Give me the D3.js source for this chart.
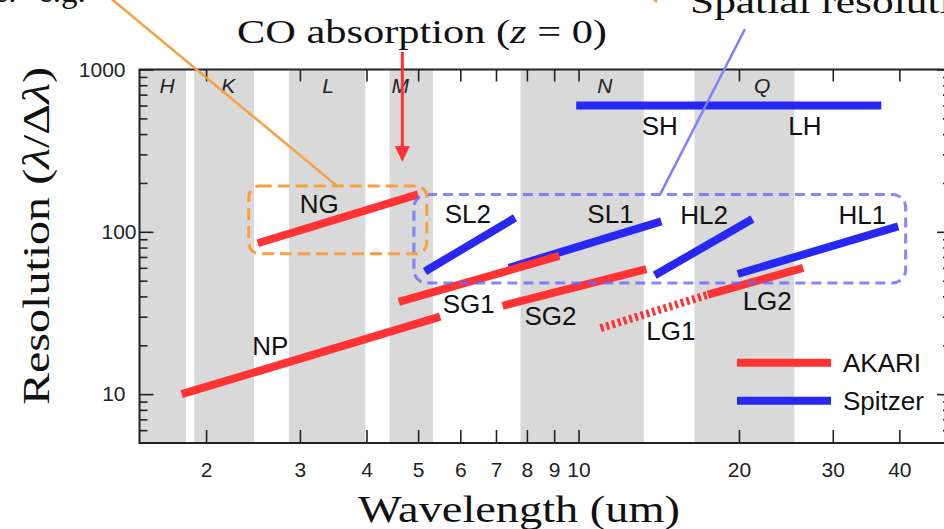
<!DOCTYPE html>
<html>
<head>
<meta charset="utf-8">
<script src="https://cdn.jsdelivr.net/npm/d3@7"></script>
<style>
  html, body { margin: 0; padding: 0; background: #fff; }
  svg { display: block; }
  .sans { font-family: "Liberation Sans", Arial, Helvetica, sans-serif; }
  .serif { font-family: "Liberation Serif", "Times New Roman", serif; }
</style>
</head>
<body>
<svg id="chart" width="944" height="529"></svg>
<script>
// Atmospheric photometric bands (microns)
const bandNames = ["H", "K", "L", "M", "N", "Q"];
const bandStart = [1.5, 1.90, 2.86, 4.42, 7.78, 16.5];
const bandEnd   = [1.834, 2.46, 3.98, 5.33, 13.26, 25.4];
const bandLabelAt = [1.69, 2.20, 3.39, 4.63, 11.2, 22.1];

// AKARI spectroscopic modes: wavelength range and resolving power at each end
const akariModes   = ["NP", "NG", "SG1", "SG2", "LG1", "LG2"];
const akariLamFrom = [1.8, 2.5, 4.6, 7.2, 11.0, 17.5];
const akariLamTo   = [5.5, 5.0, 9.2, 13.4, 17.5, 26.4];
const akariRFrom   = [10, 85, 37, 35, 25.5, 41];
const akariRTo     = [30, 170, 71, 59, 41, 60];
const akariDotted  = [false, false, false, false, true, false];

// Spitzer IRS modules
const spitzerModes   = ["SL2", "SL1", "HL2", "HL1", "SH/LH"];
const spitzerLamFrom = [5.15, 7.4, 13.9, 19.9, 9.9];
const spitzerLamTo   = [7.6, 14.3, 21.2, 39.8, 37.0];
const spitzerRFrom   = [57, 60, 54, 55, 600];
const spitzerRTo     = [122, 116, 120, 108, 600];

// Mode labels: text, wavelength, resolving power at the text baseline
const modeLabels   = ["NP", "NG", "SG1", "SG2", "LG1", "LG2", "SL2", "SL1", "HL2", "HL1", "SH", "LH"];
const modeLabelLam = [2.64, 3.26, 6.22, 8.86, 14.9, 22.6, 6.20, 11.48, 17.2, 34.1, 14.2, 26.6];
const modeLabelR   = [17.3, 130.9, 31.7, 26.8, 21.6, 33.1, 112.8, 112.8, 112, 112, 395, 395];

// Axis ticks
const xTicks = [2, 3, 4, 5, 6, 7, 8, 9, 10, 20, 30, 40];
const yMajor = [10, 100, 1000];
const yMinor = [6, 7, 8, 9, 20, 30, 40, 50, 60, 70, 80, 90, 200, 300, 400, 500, 600, 700, 800, 900];

// Highlighted regions (wavelength range, resolving power range)
const nirBoxLam = [2.405, 5.19];
const nirBoxR   = [73.2, 191.8];
const irsBoxLam = [4.91, 41.1];
const irsBoxR   = [48.4, 169.6];

// CO fundamental absorption band at rest frame
const coLam = 4.67;

const RED = "#ff3333", BLUE = "#2828f5", ORANGE = "#f7a043", LIGHTBLUE = "#8080ff";
const INK = "#222";

const svg = d3.select("#chart");
const pL = 139.5, pR = 951, pT = 69.5, pB = 443;

const x = d3.scaleLog().domain([1.5, 50]).range([pL, pR]);
const y = d3.scaleLog().domain([5, 1000]).range([pB, pT]);

svg.append("defs").append("clipPath").attr("id", "plotClip")
  .append("rect").attr("x", pL).attr("y", pT)
  .attr("width", pR - pL).attr("height", pB - pT);

// Band shading
const bandG = svg.append("g").attr("clip-path", "url(#plotClip)");
bandG.selectAll("rect").data(bandNames).join("rect")
  .attr("x", (d, i) => x(bandStart[i]))
  .attr("width", (d, i) => x(bandEnd[i]) - x(bandStart[i]))
  .attr("y", pT).attr("height", pB - pT)
  .attr("fill", "#d9d9d9");

svg.append("g").selectAll("text").data(bandNames).join("text")
  .attr("class", "sans")
  .attr("x", (d, i) => x(bandLabelAt[i]))
  .attr("y", 92.5)
  .attr("text-anchor", "middle")
  .attr("font-size", 21)
  .attr("font-style", "italic")
  .attr("fill", INK)
  .text(d => d);

// Axes (ticks point inwards on all four sides)
function styleAxis(g) {
  g.select(".domain").remove();
  g.selectAll(".tick line").attr("stroke", INK).attr("stroke-width", 1.6);
  g.selectAll(".tick text").attr("class", "sans").attr("fill", INK).attr("font-size", 21);
}

svg.append("g").attr("transform", `translate(0,${pB})`)
  .call(d3.axisBottom(x).tickValues(xTicks).tickFormat(d3.format("d"))
    .tickSizeInner(-13).tickSizeOuter(0).tickPadding(19))
  .call(styleAxis);

svg.append("g").attr("transform", `translate(0,${pT})`)
  .call(d3.axisTop(x).tickValues(xTicks).tickFormat("")
    .tickSizeInner(-12).tickSizeOuter(0))
  .call(styleAxis);

svg.append("g").attr("transform", `translate(${pL},0)`)
  .call(d3.axisLeft(y).tickValues(yMajor).tickFormat(d3.format("d"))
    .tickSizeInner(-14).tickSizeOuter(0).tickPadding(14))
  .call(styleAxis)
  .call(g => g.selectAll(".tick text").filter(d => d === 100).attr("dx", 11));

svg.append("g").attr("transform", `translate(${pL},0)`)
  .call(d3.axisLeft(y).tickValues(yMinor).tickFormat("")
    .tickSizeInner(-8).tickSizeOuter(0))
  .call(styleAxis);

svg.append("g").attr("transform", `translate(${pR},0)`)
  .call(d3.axisRight(y).tickValues(yMajor).tickFormat("")
    .tickSizeInner(-14).tickSizeOuter(0))
  .call(styleAxis);

svg.append("g").attr("transform", `translate(${pR},0)`)
  .call(d3.axisRight(y).tickValues(yMinor).tickFormat("")
    .tickSizeInner(-8).tickSizeOuter(0))
  .call(styleAxis);

// Plot frame
svg.append("rect")
  .attr("x", pL).attr("y", pT)
  .attr("width", pR - pL).attr("height", pB - pT)
  .attr("fill", "none").attr("stroke", INK).attr("stroke-width", 2);

// Spectral coverage segments
const marks = svg.append("g").attr("clip-path", "url(#plotClip)");

marks.selectAll("line.spitzer").data(spitzerModes).join("line")
  .attr("class", "spitzer")
  .attr("x1", (d, i) => x(spitzerLamFrom[i])).attr("y1", (d, i) => y(spitzerRFrom[i]))
  .attr("x2", (d, i) => x(spitzerLamTo[i])).attr("y2", (d, i) => y(spitzerRTo[i]))
  .attr("stroke", BLUE).attr("stroke-width", 8);

marks.selectAll("line.akari").data(akariModes).join("line")
  .attr("class", "akari")
  .attr("x1", (d, i) => x(akariLamFrom[i])).attr("y1", (d, i) => y(akariRFrom[i]))
  .attr("x2", (d, i) => x(akariLamTo[i])).attr("y2", (d, i) => y(akariRTo[i]))
  .attr("stroke", RED).attr("stroke-width", 8)
  .attr("stroke-dasharray", (d, i) => akariDotted[i] ? "3,3" : null);

// Mode labels
svg.append("g").selectAll("text").data(modeLabels).join("text")
  .attr("class", "sans")
  .attr("x", (d, i) => x(modeLabelLam[i]))
  .attr("y", (d, i) => y(modeLabelR[i]))
  .attr("text-anchor", "middle")
  .attr("font-size", 26)
  .attr("fill", "#111")
  .text(d => d);

// Highlight boxes
svg.append("rect")
  .attr("x", x(irsBoxLam[0])).attr("y", y(irsBoxR[1]))
  .attr("width", x(irsBoxLam[1]) - x(irsBoxLam[0]))
  .attr("height", y(irsBoxR[0]) - y(irsBoxR[1]))
  .attr("rx", 13).attr("ry", 13)
  .attr("fill", "none").attr("stroke", "#6666ff").attr("stroke-opacity", 0.8)
  .attr("stroke-width", 3).attr("stroke-dasharray", "10,6");

svg.append("rect")
  .attr("x", x(nirBoxLam[0])).attr("y", y(nirBoxR[1]))
  .attr("width", x(nirBoxLam[1]) - x(nirBoxLam[0]))
  .attr("height", y(nirBoxR[0]) - y(nirBoxR[1]))
  .attr("rx", 11).attr("ry", 11)
  .attr("fill", "none").attr("stroke", ORANGE)
  .attr("stroke-width", 3).attr("stroke-dasharray", "12,6");

// Callout lines towards the highlighted boxes
const nirTop = y(nirBoxR[1]);
const nirAnchorX = 337;
svg.append("line")
  .attr("x1", nirAnchorX - (nirTop + 30) * 222 / 184).attr("y1", -30)
  .attr("x2", nirAnchorX).attr("y2", nirTop)
  .attr("stroke", ORANGE).attr("stroke-width", 2.5);

svg.append("line")
  .attr("x1", 651).attr("y1", -3).attr("x2", 657).attr("y2", 2)
  .attr("stroke", ORANGE).attr("stroke-width", 2.5);

svg.append("line")
  .attr("x1", 745).attr("y1", 29)
  .attr("x2", 660).attr("y2", y(irsBoxR[1]))
  .attr("stroke", LIGHTBLUE).attr("stroke-width", 2.5);

// CO absorption marker
const coX = x(coLam);
svg.append("line")
  .attr("x1", coX).attr("y1", 52).attr("x2", coX).attr("y2", 148)
  .attr("stroke", RED).attr("stroke-width", 3);
svg.append("path")
  .attr("d", `M${coX - 7.5},146 L${coX + 7.5},146 L${coX},162 Z`)
  .attr("fill", RED);

// Annotation text
const coText = svg.append("text").attr("class", "serif")
  .attr("x", 237).attr("y", 43).attr("font-size", 33).attr("fill", "#111")
  .attr("textLength", 370).attr("lengthAdjust", "spacingAndGlyphs");
coText.append("tspan").text("CO absorption (");
coText.append("tspan").attr("font-style", "italic").text("z");
coText.append("tspan").text(" = 0)");

svg.append("text").attr("class", "serif")
  .attr("x", 690).attr("y", 13).attr("font-size", 34).attr("fill", "#111")
  .attr("textLength", 305).attr("lengthAdjust", "spacingAndGlyphs")
  .text("Spatial resolution");

svg.append("text").attr("class", "serif")
  .attr("x", 17).attr("y", 2).attr("text-anchor", "end")
  .attr("font-size", 33).attr("fill", "#111")
  .text("Wavelength coverage:");
svg.append("text").attr("class", "serif")
  .attr("x", 38).attr("y", 2)
  .attr("font-size", 33).attr("fill", "#111")
  .text("e.g.");

// Axis titles
svg.append("text").attr("class", "serif")
  .attr("x", 358).attr("y", 521.5).attr("font-size", 37).attr("fill", "#111")
  .attr("textLength", 322).attr("lengthAdjust", "spacingAndGlyphs")
  .text("Wavelength (um)");

const yTitle = svg.append("text").attr("class", "serif")
  .attr("transform", "translate(49,236) rotate(-90)")
  .attr("text-anchor", "middle").attr("font-size", 37).attr("fill", "#111")
  .attr("textLength", 338).attr("lengthAdjust", "spacingAndGlyphs");
yTitle.append("tspan").text("Resolution (");
yTitle.append("tspan").attr("font-style", "italic").text("λ");
yTitle.append("tspan").text("/Δ");
yTitle.append("tspan").attr("font-style", "italic").text("λ");
yTitle.append("tspan").text(")");

// Legend
const legendItems = [["AKARI", RED, 362.7], ["Spitzer", BLUE, 400.7]];
const legend = svg.append("g");
legendItems.forEach(([name, color, ly]) => {
  legend.append("line").attr("x1", 737).attr("x2", 831).attr("y1", ly).attr("y2", ly)
    .attr("stroke", color).attr("stroke-width", 8);
  legend.append("text").attr("class", "sans")
    .attr("x", 843).attr("y", ly + 9.5).attr("font-size", 26).attr("fill", "#111")
    .text(name);
});
</script>
</body>
</html>
